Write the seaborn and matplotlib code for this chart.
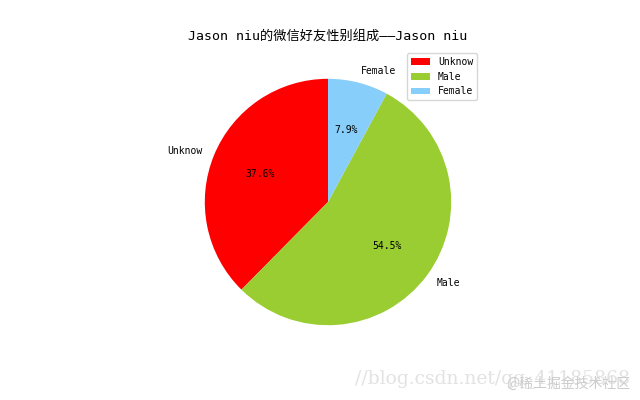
import matplotlib
matplotlib.use('Agg')
import matplotlib.pyplot as plt
import seaborn as sns

labels = ['Unknow', 'Male', 'Female']
shares = [37.6, 54.5, 7.9]
colors = ['red', 'yellowgreen', 'lightskyblue']
title = 'Jason niu的微信好友性别组成——Jason niu'

sns.set_style('white', {'text.color': 'black'})
plt.rcParams['font.family'] = ['DejaVu Sans Mono', 'Noto Sans CJK SC']

fig, ax = plt.subplots(figsize=(6.4, 4.0), dpi=100)
patches, texts, autotexts = ax.pie(shares, labels=labels, colors=colors, startangle=90,
                                   autopct='%1.1f%%', wedgeprops={'linewidth': 0},
                                   textprops={'fontsize': 7, 'color': 'black'})
ax.set_aspect('equal', adjustable='box')
ax.set_xlim(-1.25, 1.25)
ax.set_ylim(-1.25, 1.25)
ax.set_title(title, fontsize=9.5, color='black')
leg = ax.legend(patches, labels, loc='upper right', fontsize=7)
for t in leg.get_texts():
    t.set_color('black')

# watermark
fig.text(0.985, 0.03, '//blog.csdn.net/qq_41185868', ha='right', va='bottom',
         fontsize=13.5, color='#e2e2e2', family=['DejaVu Serif'])
fig.text(0.985, 0.022, '@稀土掘金技术社区', ha='right', va='bottom',
         fontsize=10, color='#cccccc', family=['Noto Sans CJK SC', 'DejaVu Sans'])

fig.savefig('out.png', dpi=100)
